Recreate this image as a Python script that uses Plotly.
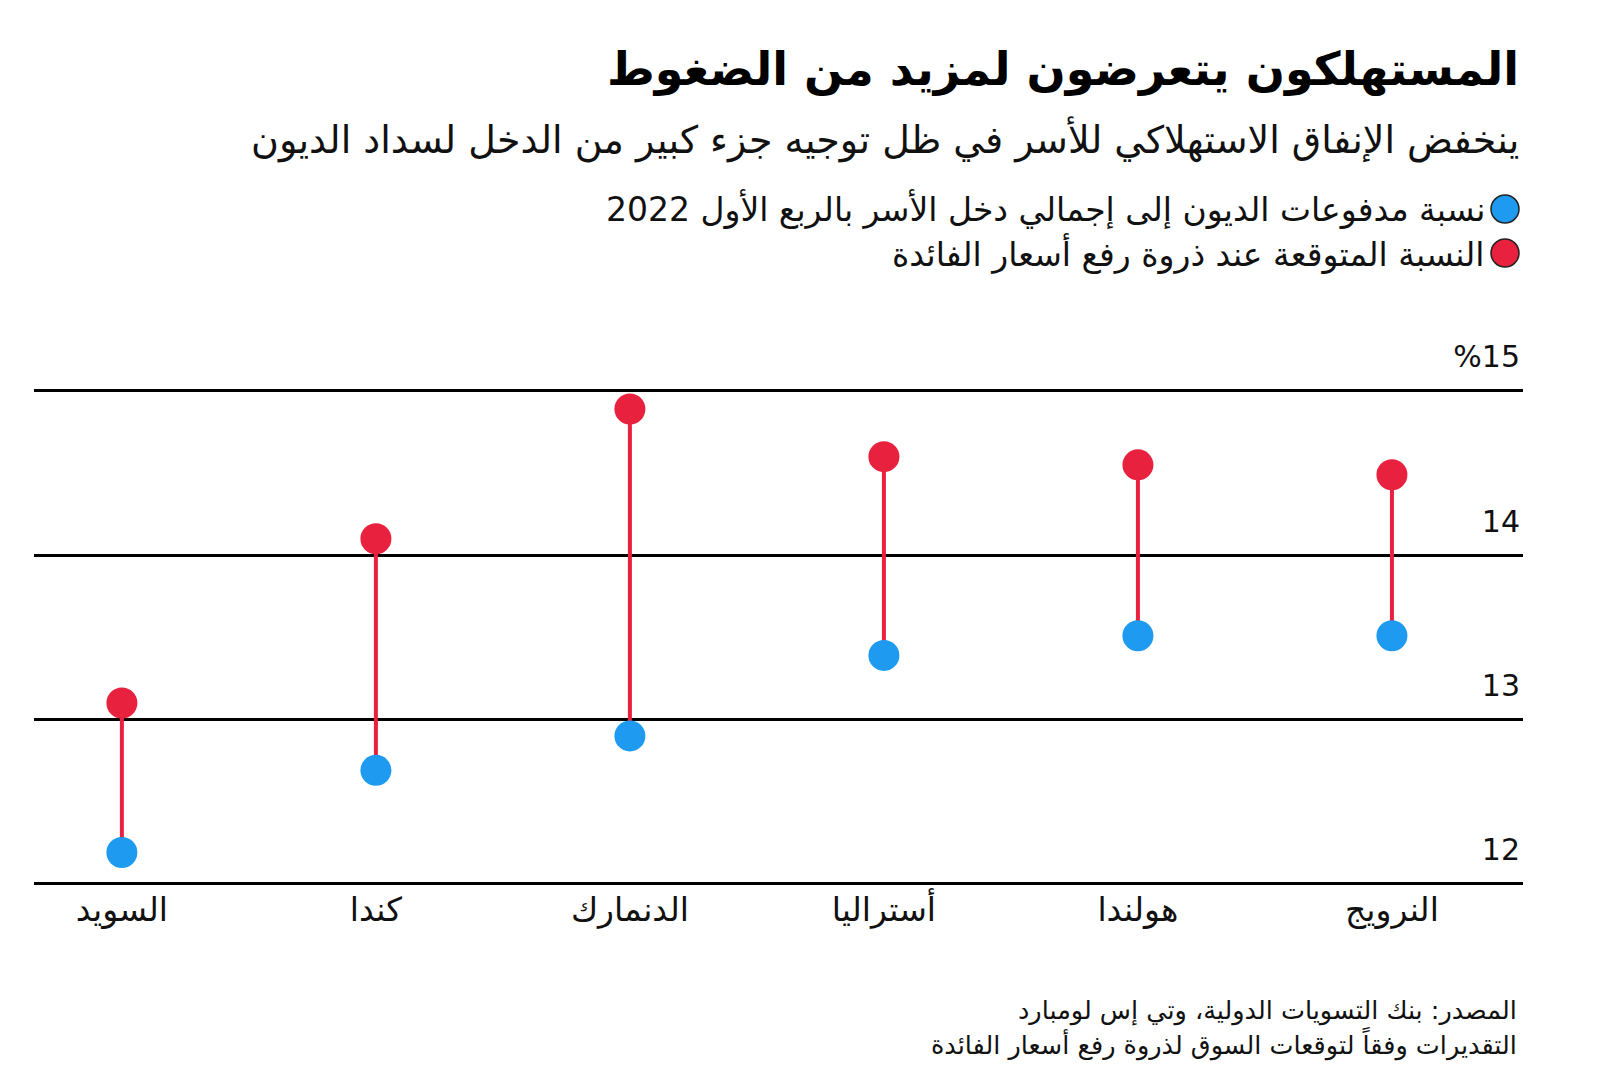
import plotly.graph_objects as go

# Data (left to right as drawn)
categories = ["السويد", "كندا", "الدنمارك", "أستراليا", "هولندا", "النرويج"]
ratio_q1_2022 = [12.19, 12.69, 12.90, 13.39, 13.51, 13.51]
ratio_peak = [13.10, 14.10, 14.89, 14.60, 14.55, 14.49]
y_tickvals = [12, 13, 14, 15]
y_ticktext = ["12", "13", "14", "%15"]

title = "المستهلكون يتعرضون لمزيد من الضغوط"
subtitle = "ينخفض الإنفاق الاستهلاكي للأسر في ظل توجيه جزء كبير من الدخل لسداد الديون"
legend_blue = "نسبة مدفوعات الديون إلى إجمالي دخل الأسر بالربع الأول 2022"
legend_red = "النسبة المتوقعة عند ذروة رفع أسعار الفائدة"
source_1 = "المصدر: بنك التسويات الدولية، وتي إس لومبارد"
source_2 = "التقديرات وفقاً لتوقعات السوق لذروة رفع أسعار الفائدة"

RED = "#E8213F"
BLUE = "#1E9BF0"
FONT = "DejaVu Sans, Noto Sans, sans-serif"

W, H = 1600, 1090
OFF = 8  # page body margin
ML, MR, MT, MB = 26, 85, 309, 211
PW, PH = W - ML - MR, H - MT - MB


def px(x):
    return (x - OFF - ML) / PW


def py(y):
    return (H - MB - (y - OFF)) / PH


xs = list(range(len(categories)))

# connecting segments
seg_x, seg_y = [], []
for i, (a, b) in enumerate(zip(ratio_q1_2022, ratio_peak)):
    seg_x += [i, i, None]
    seg_y += [a, b, None]

fig = go.Figure()
fig.add_trace(go.Scatter(x=seg_x, y=seg_y, mode="lines",
                         line=dict(color=RED, width=4), hoverinfo="skip",
                         showlegend=False))
fig.add_trace(go.Scatter(x=xs, y=ratio_q1_2022, mode="markers",
                         marker=dict(color=BLUE, size=31, line=dict(width=0)),
                         name=legend_blue, showlegend=False))
fig.add_trace(go.Scatter(x=xs, y=ratio_peak, mode="markers",
                         marker=dict(color=RED, size=31, line=dict(width=0)),
                         name=legend_red, showlegend=False))

annotations = [
    dict(text=f"<b>{title}</b>", x=px(1521), y=py(69), font=dict(size=46, color="#000")),
    dict(text=subtitle, x=px(1521), y=py(140), font=dict(size=38, color="#111")),
    dict(text=legend_blue, x=px(1487), y=py(209), font=dict(size=33, color="#111")),
    dict(text=legend_red, x=px(1487), y=py(253), font=dict(size=33, color="#111")),
    dict(text=source_1, x=px(1519), y=py(1010), font=dict(size=25.5, color="#111")),
    dict(text=source_2, x=px(1519), y=py(1043), font=dict(size=25.5, color="#111")),
]
for a in annotations:
    a.update(xref="paper", yref="paper", xanchor="right", yanchor="middle",
             showarrow=False, font_family=FONT)

shapes = []
for yy, col in [(209, BLUE), (253, RED)]:
    shapes.append(dict(type="circle", xref="paper", yref="paper",
                       xsizemode="pixel", ysizemode="pixel",
                       xanchor=px(1505), yanchor=py(yy),
                       x0=-14, x1=14, y0=-14, y1=14,
                       fillcolor=col, line=dict(color="#222", width=1.5)))

fig.update_layout(
    width=W, height=H,
    margin=dict(l=ML, r=MR, t=MT, b=MB),
    paper_bgcolor="white", plot_bgcolor="white",
    font=dict(family=FONT, color="#111"),
    annotations=annotations, shapes=shapes,
    showlegend=False,
    xaxis=dict(range=[-0.346, 5.516], tickvals=xs, ticktext=categories,
               showgrid=False, zeroline=False, showline=False, ticks="",
               tickfont=dict(size=33, color="#111"), fixedrange=True),
    yaxis=dict(range=[11.98, 15.45], tickvals=y_tickvals, ticktext=y_ticktext,
               side="right", ticklabelposition="inside top", ticklabelshift=-13,
               showgrid=True, gridcolor="#000", gridwidth=2.8,
               zeroline=False, showline=False, ticks="",
               tickfont=dict(size=30, color="#111"), fixedrange=True),
)

fig.write_html("out.html")
